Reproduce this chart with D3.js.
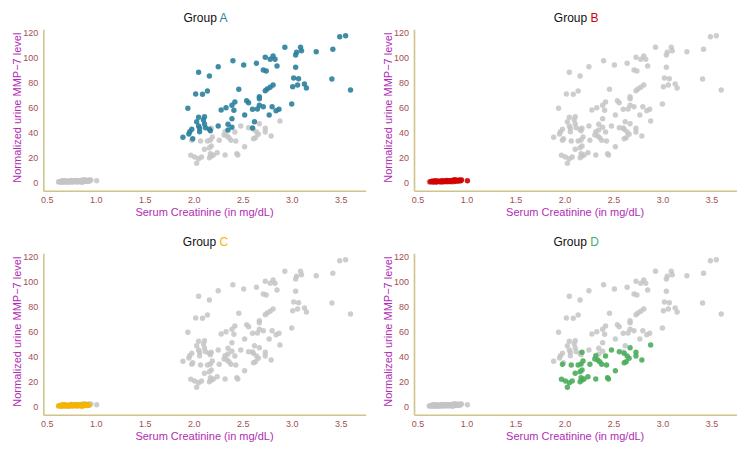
<!DOCTYPE html>
<html>
<head>
<meta charset="utf-8">
<script src="https://cdn.jsdelivr.net/npm/d3@7"></script>
<style>
  body { margin: 0; background: #fff; }
  text { font-family: "Liberation Sans", Arial, sans-serif; }
</style>
</head>
<body>
<div id="chart-area"></div>
<script>
// Data
const groups = ['A', 'B', 'C', 'D'];
const groupColors = ['#2a7f9c', '#d40000', '#f5b400', '#4aad5b'];

const creatA = [3.49, 3.55, 2.93, 3.09, 3.10, 3.05, 3.04, 3.25, 3.42, 2.73, 2.81, 2.78, 2.83, 2.40, 2.51, 2.64,
  2.25, 2.85, 3.04, 2.05, 2.71, 2.74, 2.16, 3.02, 3.07, 3.41, 2.81, 2.78, 2.75, 2.73, 3.06, 3.01, 3.13, 3.15,
  3.60, 2.46, 2.14, 2.02, 2.09, 2.67, 2.67, 2.54, 2.56, 2.42, 2.39, 2.33, 2.28, 2.41, 2.60, 2.65, 2.67, 2.71,
  2.80, 3.00, 1.94, 2.84, 2.87, 2.77, 2.52, 2.39, 2.62, 2.05, 2.03, 2.05, 2.06, 2.11, 2.10, 2.11, 2.12, 2.16,
  2.17, 1.98, 1.96, 1.95, 2.06, 1.89, 1.99, 2.25, 2.35, 2.35, 2.39, 2.60];
const mmpA = [116.8, 117.6, 108.3, 108.3, 105.6, 104.3, 102.1, 104.8, 106.7, 100.3, 101.3, 98.7, 98.7, 97.6, 94.1, 95.5,
  92.8, 93.3, 92.3, 88.3, 90.1, 89.3, 85.3, 83.7, 83.2, 82.9, 78.1, 76.3, 74.9, 73.6, 78.1, 76.8, 78.9, 75.7,
  74.1, 74.7, 73.3, 70.9, 70.7, 68.8, 67.2, 65.6, 64.0, 64.5, 61.9, 60.0, 58.1, 57.9, 58.7, 58.9, 61.9, 60.8,
  60.8, 62.9, 59.5, 57.6, 58.7, 54.1, 54.1, 51.2, 48.8, 52.3, 48.8, 45.3, 43.5, 52.8, 50.1, 46.9, 44.0, 42.7,
  41.6, 42.7, 40.8, 38.9, 40.8, 36.3, 35.2, 45.3, 46.7, 42.1, 44.3, 43.7];

const creatB = [0.63, 0.65, 0.66, 0.68, 0.70, 0.71, 0.73, 0.74, 0.75, 0.77, 0.78, 0.79, 0.80, 0.82, 0.83, 0.84,
  0.85, 0.86, 0.87, 0.88, 0.89, 0.90, 0.91, 0.92, 0.93, 0.94, 0.95, 1.01, 0.69, 0.76, 0.81, 0.88];
const mmpB = [0.8, 1.2, 0.6, 1.5, 0.9, 1.3, 1.0, 0.7, 1.6, 1.1, 1.4, 0.9, 1.8, 1.2, 1.5, 1.0,
  1.7, 1.3, 1.9, 1.1, 1.6, 2.0, 1.4, 1.8, 2.2, 1.5, 2.1, 1.6, 0.5, 0.8, 1.0, 2.3];

const creatC = [0.62, 0.64, 0.65, 0.67, 0.68, 0.69, 0.71, 0.72, 0.73, 0.74, 0.76, 0.77, 0.78, 0.79, 0.80, 0.81,
  0.82, 0.83, 0.84, 0.85, 0.86, 0.87, 0.88, 0.89, 0.90, 0.91, 0.92, 0.93, 0.66, 0.75, 0.86];
const mmpC = [0.5, 0.9, 0.3, 1.1, 0.6, 1.4, 0.8, 0.4, 1.2, 0.7, 1.0, 0.5, 1.3, 0.9, 1.5, 0.6,
  1.1, 0.8, 1.6, 1.2, 0.7, 1.4, 1.0, 1.7, 1.3, 0.9, 1.5, 1.2, 1.6, 1.7, 0.4];

const creatD = [2.88, 2.67, 2.48, 2.18, 2.42, 2.56, 2.61, 2.73, 2.73, 2.64, 2.66, 2.63, 2.61, 2.79, 2.32, 2.31,
  2.34, 2.36, 2.38, 2.43, 2.26, 2.19, 2.17, 2.14, 2.07, 1.98, 2.18, 2.16, 2.11, 2.52, 1.97, 2.01, 2.05, 2.08,
  2.03, 2.17, 2.18, 2.20, 2.16, 2.24, 2.32, 2.44, 2.45];
const mmpD = [49.3, 47.2, 45.3, 43.5, 40.5, 44.0, 42.7, 43.5, 40.5, 40.5, 38.7, 36.0, 35.2, 37.3, 40.8, 38.1,
  37.3, 36.0, 33.9, 33.3, 33.9, 36.5, 34.1, 33.3, 33.3, 33.9, 29.3, 28.0, 26.7, 28.8, 21.9, 20.5, 19.2, 20.5,
  15.5, 23.2, 21.3, 22.1, 20.0, 24.0, 22.1, 23.2, 22.1];

const xTicks = [0.5, 1.0, 1.5, 2.0, 2.5, 3.0, 3.5];
const yTicks = [0, 20, 40, 60, 80, 100, 120];

// build point lists from the arrays
const creats = [creatA, creatB, creatC, creatD];
const mmps = [mmpA, mmpB, mmpC, mmpD];
const allPoints = [];
groups.forEach((grp, gi) => {
  creats[gi].forEach((c, i) => allPoints.push({group: grp, creat: c, mmp: mmps[gi][i]}));
});

// Set Size for Chart (svg)
const svgWidth = 750;
const svgHeight = 455;
const panelW = 322.4;
const panelH = 161.4;
const panelX = [43.3, 414];
const panelY = [29.3, 253.3];

const svg = d3.select('#chart-area')
  .append('svg')
  .attr('width', svgWidth)
  .attr('height', svgHeight);

const x = d3.scaleLinear()
  .domain([0.465, 3.755])
  .range([0, panelW]);

const y = d3.scaleLinear()
  .domain([-6.4, 122.7])
  .range([panelH, 0]);

groups.forEach((grp, gi) => {
  const col = gi % 2;
  const row = Math.floor(gi / 2);
  const g = svg.append('g')
    .attr('transform', `translate(${panelX[col]}, ${panelY[row]})`);

  // Title
  const title = g.append('text')
    .attr('x', panelW / 2 + 1)
    .attr('y', -7)
    .attr('text-anchor', 'middle')
    .attr('font-size', '12px')
    .attr('fill', '#111');
  title.append('tspan').text('Group ');
  title.append('tspan').attr('fill', groupColors[gi]).text(grp);

  // Y Axis
  const yAxis = g.append('g')
    .call(d3.axisLeft(y).tickValues(yTicks).tickSize(0).tickPadding(5));
  // X Axis
  const xAxis = g.append('g')
    .attr('transform', `translate(0, ${panelH})`)
    .call(d3.axisBottom(x).tickValues(xTicks).tickSize(0).tickPadding(6).tickFormat(d3.format('.1f')));

  [xAxis, yAxis].forEach(ax => {
    ax.select('.domain').attr('stroke', '#cfc48a').attr('stroke-width', 1.6);
    ax.selectAll('text')
      .attr('fill', '#a34f4f')
      .attr('font-size', '9px')
      .attr('font-family', '"Liberation Sans", Arial, sans-serif');
  });

  // X Label
  g.append('text')
    .attr('x', panelW / 2)
    .attr('y', panelH + 25)
    .attr('text-anchor', 'middle')
    .attr('font-size', '11px')
    .attr('fill', '#b02cb4')
    .text('Serum Creatinine (in mg/dL)');

  // Y Label
  g.append('text')
    .attr('x', -(y(60)))
    .attr('y', -22)
    .attr('transform', 'rotate(-90)')
    .attr('text-anchor', 'middle')
    .attr('font-size', '11px')
    .attr('fill', '#b02cb4')
    .text('Normalized urine MMP\u22127 level');

  // background points (other groups)
  g.selectAll('circle.bg')
    .data(allPoints.filter(d => d.group !== grp))
    .enter()
    .append('circle')
    .attr('class', 'bg')
    .attr('cx', d => x(d.creat))
    .attr('cy', d => y(d.mmp))
    .attr('r', 2.7)
    .attr('fill', '#c4c4c4')
    .attr('fill-opacity', 0.85);

  // highlighted group
  g.selectAll('circle.fg')
    .data(allPoints.filter(d => d.group === grp))
    .enter()
    .append('circle')
    .attr('class', 'fg')
    .attr('cx', d => x(d.creat))
    .attr('cy', d => y(d.mmp))
    .attr('r', 2.7)
    .attr('fill', groupColors[gi])
    .attr('fill-opacity', 0.9);
});
</script>
</body>
</html>
